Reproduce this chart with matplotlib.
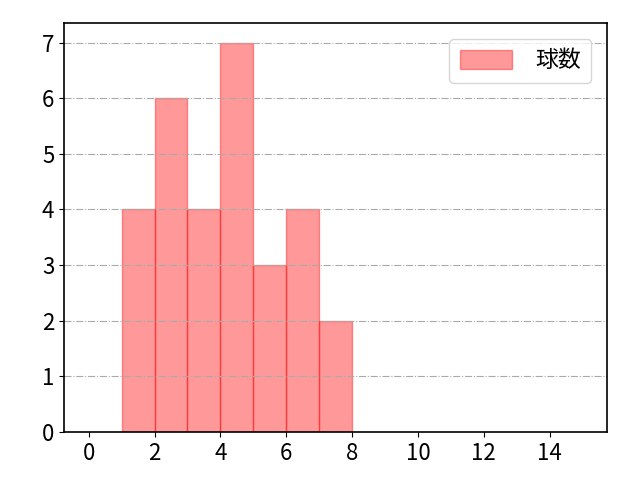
import matplotlib
matplotlib.use("Agg")
import matplotlib.pyplot as plt
import numpy as np

plt.rcParams['font.family'] = ['Noto Sans CJK JP', 'DejaVu Sans']

bin_edges = [1, 2, 3, 4, 5, 6, 7, 8]
counts = [4, 6, 4, 7, 3, 4, 2]
label = "球数"
xticks = [0, 2, 4, 6, 8, 10, 12, 14]

fig, ax = plt.subplots(figsize=(6.4, 4.8), dpi=100)
fig.subplots_adjust(left=0.1, right=0.949, top=0.952, bottom=0.1)
ax.hist(bin_edges[:-1], bins=bin_edges, weights=counts, color='red', alpha=0.4,
        edgecolor='red', linewidth=1, label=label)
ax.set_xlim(-0.75, 15.75)
ax.set_ylim(0, 7.35)
ax.set_xticks(xticks)
ax.set_yticks(range(0, 8))
ax.grid(axis='y', linestyle='-.', color='#aaaaaa', linewidth=0.8)
ax.tick_params(labelsize=16)
for s in ax.spines.values():
    s.set_linewidth(1.2)
ax.legend(loc='upper right', fontsize=16.5, handlelength=2.3, handleheight=0.85,
          handletextpad=1.0, borderpad=0.45, borderaxespad=0.7)
fig.savefig("out.png")
